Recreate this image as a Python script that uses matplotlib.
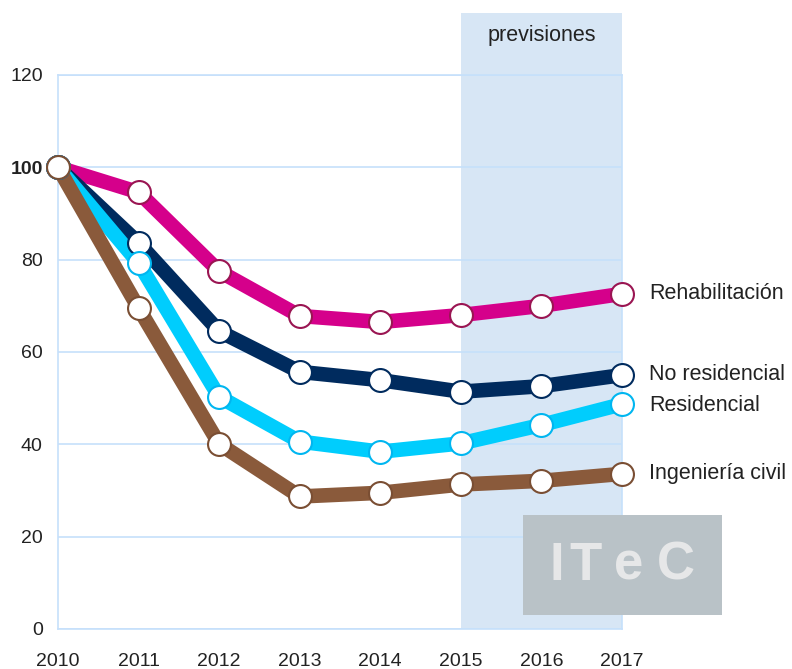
import matplotlib.pyplot as plt
from matplotlib.patches import Rectangle

plt.rcParams['font.family'] = ['Liberation Sans', 'DejaVu Sans']

years = [2010, 2011, 2012, 2013, 2014, 2015, 2016, 2017]
rehabilitacion = [100, 94.6, 77.5, 67.8, 66.5, 68.0, 70.0, 72.6]
no_residencial = [100, 83.6, 64.5, 55.7, 53.9, 51.4, 52.6, 55.0]
residencial = [100, 79.3, 50.3, 40.6, 38.4, 40.2, 44.2, 48.7]
ingenieria = [100, 69.5, 40.1, 28.7, 29.5, 31.3, 32.1, 33.6]
yticks = [0, 20, 40, 60, 80, 100, 120]

series = [
    ("Rehabilitación", rehabilitacion, "#d5008b", "#9a1552"),
    ("No residencial", no_residencial, "#002b5e", "#002b5e"),
    ("Residencial", residencial, "#00cdfd", "#00b6f0"),
    ("Ingeniería civil", ingenieria, "#8a5a3b", "#7a4e33"),
]

grid_col = "#c6e0fb"

fig = plt.figure(figsize=(7.92, 6.69), dpi=100)
ax = fig.add_axes([0.0732, 0.0598, 0.7121, 0.8281])

# zona de previsiones (sale por encima del eje)
ax.add_patch(Rectangle((2015, 0), 2, 133.5, facecolor="#d7e6f5", edgecolor="none",
                       clip_on=False, zorder=0))
ax.text(2016, 128.5, "previsiones", ha="center", va="center", fontsize=15.5,
        color="#222222")

for y in yticks:
    ax.axhline(y, color=grid_col, lw=1.2, zorder=1)

for name, vals, col, edge in series:
    ax.plot(years, vals, color=col, lw=10.5, solid_joinstyle="round", zorder=3,
            clip_on=False)
    ax.plot(years, vals, ls="none", marker="o", ms=16.5, mfc="white", mec=edge,
            mew=1.5, zorder=4, clip_on=False)

label_y = {"Rehabilitación": 72.6, "No residencial": 55.2,
           "Residencial": 48.5, "Ingeniería civil": 33.6}
for name, vals, col, edge in series:
    ax.text(2017.34, label_y[name], name, ha="left", va="center", fontsize=15.5,
            color="#222222", clip_on=False)

ax.set_xlim(2010, 2017)
ax.set_ylim(0, 120)
ax.set_xticks(years)
ax.set_yticks(yticks)
ax.tick_params(axis="both", length=0, labelsize=14, colors="#222222")
ax.tick_params(axis="x", pad=17)
ax.tick_params(axis="y", pad=11)
for lab in ax.get_yticklabels():
    if lab.get_text() == "100":
        lab.set_fontweight("bold")

for side in ["left", "right", "bottom", "top"]:
    ax.spines[side].set_color(grid_col)
    ax.spines[side].set_linewidth(1.2)
ax.set_facecolor("none")

# logo ITeC
fig.patches.append(Rectangle((0.660, 0.0807), 0.252, 0.1495, transform=fig.transFigure,
                             facecolor="#b9c2c7", edgecolor="none", zorder=5))
for ch, xp in zip("ITeC", [557, 586, 629, 676]):
    fig.text(xp / 792, 1 - 566 / 669, ch, ha="center", va="center", fontsize=38,
             fontweight="bold", color="#e6e7e8", zorder=6)

fig.savefig("out.png", dpi=100)
